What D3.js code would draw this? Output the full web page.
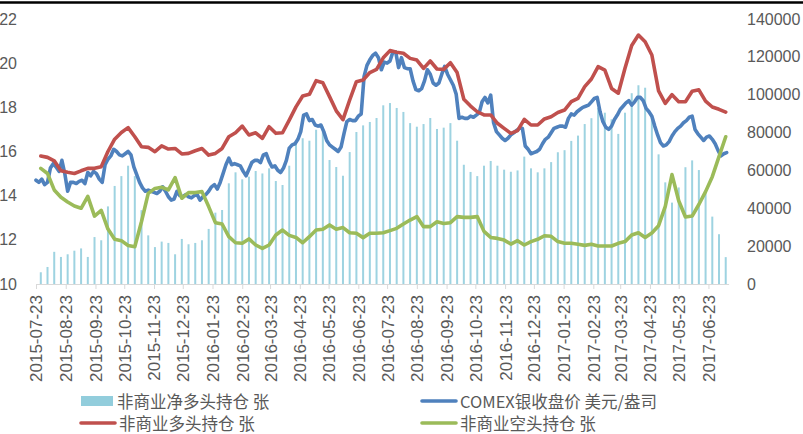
<!DOCTYPE html>
<html>
<head>
<meta charset="utf-8">
<script src="https://cdn.jsdelivr.net/npm/d3@7/dist/d3.min.js"></script>
<style>
  html, body { margin: 0; padding: 0; background: #fff; }
  svg { display: block; }
  .axis text { font-family: "Liberation Sans", Arial, sans-serif; fill: #595959; }
  .legend text { font-family: "Noto Sans CJK SC", "Liberation Sans", sans-serif; fill: #595959; }
</style>
</head>
<body>
<svg id="chart" width="803" height="434"></svg>
<script>
// ── Data ──
// COMEX silver close (USD/oz), sampled every 3 days from 2015-07-23
const priceStart = Date.UTC(2015, 6, 23);
const priceStepDays = 3;
const silverPrice = [
  14.7, 14.6, 14.75, 14.5, 14.6, 15.25, 15.45, 15.3, 15.1, 15.6,
  15.0, 14.2, 14.6, 14.6, 14.55, 14.65, 14.7, 14.55, 15.05, 14.9,
  15.1, 15.0, 14.75, 14.6, 15.4, 15.65, 15.8, 16.1, 16.0, 15.85,
  15.8, 15.9, 16.0, 15.85, 15.3, 14.95, 14.6, 14.35, 14.2, 14.25,
  14.2, 14.15, 14.1, 14.2, 14.4, 14.2, 13.95, 13.8, 13.85, 14.2,
  14.0, 13.95, 14.05, 13.95, 13.9, 14.0, 14.05, 13.8, 13.95, 14.05,
  14.2, 14.4, 14.5, 14.3, 14.6, 15.0, 15.4, 15.7, 15.4, 15.45,
  15.4, 15.35, 15.1, 14.9, 15.2, 15.5, 15.6, 15.6, 15.5, 15.85,
  15.9, 15.55, 15.3, 15.35, 15.15, 15.05, 15.25, 15.6, 16.15, 16.3,
  16.35, 16.55, 16.9, 17.65, 17.7, 17.4, 17.45, 17.2, 17.15, 17.2,
  16.9, 16.5, 16.3, 16.2, 16.1, 16.0, 16.2, 16.8, 17.35, 17.45,
  17.4, 17.4, 17.6, 17.7, 19.4, 19.9, 20.15, 20.35, 20.45, 20.25,
  19.7, 20.05, 20.0, 20.1, 20.5, 20.5, 19.8, 20.25, 19.8, 19.75,
  19.75, 19.2, 18.8, 18.75, 18.85, 19.2, 19.7, 19.5, 19.1, 19.0,
  19.1, 19.5, 19.85, 19.5, 19.25, 19.0, 18.6, 17.5, 17.55, 17.5,
  17.5, 17.6, 17.55, 17.65, 17.75, 18.25, 18.45, 18.2, 18.55, 17.3,
  16.9, 16.75, 16.6, 16.5, 16.6, 16.75, 16.85, 16.95, 17.05, 17.05,
  16.25, 16.1, 15.9, 15.95, 16.0, 16.1, 16.35, 16.55, 16.65, 16.85,
  17.05, 17.1, 17.15, 17.15, 17.1, 17.5, 17.7, 17.65, 17.8, 17.9,
  18.0, 18.05, 18.1, 18.25, 18.4, 18.45, 17.8, 17.35, 17.1, 17.0,
  17.15, 17.45, 17.65, 17.9, 18.05, 18.2, 18.3, 18.1, 18.25, 18.45,
  18.45, 18.3, 17.95, 17.8, 17.6, 17.15, 16.75, 16.4, 16.25, 16.3,
  16.45, 16.7, 16.9, 17.05, 17.15, 17.3, 17.4, 17.55, 17.6, 17.0,
  16.8, 16.65, 16.5, 16.65, 16.7, 16.55, 16.35, 16.05, 15.8, 15.9,
  15.95
];

// Weekly CFTC positions (contracts), Tuesdays from 2015-07-28
const weekStart = Date.UTC(2015, 6, 28);
const netLong = [
  6200, 9000, 17000, 14300, 15700, 17600, 18800, 14300, 24800, 23100,
  41000, 51800, 57000, 62500, 57000, 39000, 25700, 19500, 22400, 21700,
  15700, 23800, 21000, 21700, 23100, 29100, 37700, 39100, 53200, 59000,
  55300, 56700, 59700, 58400, 61100, 54400, 52300, 62500, 75000, 77000,
  75700, 81500, 83100, 65500, 61800, 57200, 69700, 80300, 83800, 85600,
  87700, 94400, 95600, 93000, 90900, 85000, 83100, 84500, 87700, 81900,
  82600, 85000, 75700, 63000, 59200, 57000, 62500, 65000, 62500, 60400,
  59300, 60000, 67300, 61100, 59000, 61100, 64400, 69600, 70700, 75600,
  78400, 84500, 87600, 93000, 90500, 87000, 79300, 90500, 100800, 105000,
  103700, 88000, 68500, 53700, 43000, 51000, 61700, 65300, 60200, 48000,
  35600, 26300, 14200
];
const longPos = [
  67600, 66900, 65100, 59800, 59000, 58400, 59800, 61100, 61100, 62000,
  70000, 76500, 80000, 82600, 77800, 72500, 72200, 69900, 73000, 71300,
  71600, 68700, 69000, 70400, 71600, 68100, 69000, 71600, 77800, 79900,
  83400, 78700, 79900, 76900, 83100, 79600, 79900, 86600, 93600, 99300,
  100200, 107400, 106300, 99000, 91500, 86800, 97200, 106900, 107800, 111700,
  113400, 119500, 123300, 122400, 121900, 119200, 118300, 113900, 117800, 113600,
  113400, 116900, 111700, 97600, 94000, 91000, 89300, 89300, 84900, 82200,
  79600, 81000, 87000, 84000, 84000, 87200, 88400, 90600, 91900, 96300,
  98100, 104300, 108300, 114800, 113000, 103300, 100800, 114000, 126000, 131500,
  128000, 121000, 102000, 95400, 100000, 96300, 96300, 101800, 102600, 96600,
  93500, 92300, 90800
];
const shortPos = [
  61100, 58400, 49700, 45800, 43300, 41200, 40000, 46300, 35900, 38900,
  29000, 23600, 22900, 20300, 19700, 33000, 47900, 50500, 51100, 49700,
  56200, 45300, 48300, 48300, 48800, 40900, 32400, 31700, 25000, 21800,
  21500, 23800, 20600, 18800, 20600, 25900, 28500, 25700, 24600, 21800,
  25000, 28500, 28900, 31200, 28900, 29800, 27100, 26800, 24500, 26800,
  26800, 27100, 28200, 29400, 31700, 33800, 35600, 30300, 30300, 32900,
  32000, 32400, 35600, 35200, 35200, 35600, 27800, 24600, 24100, 23200,
  21100, 22900, 20600, 22400, 23600, 25500, 25200, 22400, 21500, 21500,
  21000, 20400, 21000, 20100, 20100, 20100, 21500, 22400, 25900, 27100,
  24600, 26900, 30800, 41000, 57800, 44000, 35400, 35900, 42000, 48800,
  56700, 67300, 77800
];

const monthTicks = [
  "2015-07-23", "2015-08-23", "2015-09-23", "2015-10-23", "2015-11-23", "2015-12-23",
  "2016-01-23", "2016-02-23", "2016-03-23", "2016-04-23", "2016-05-23", "2016-06-23",
  "2016-07-23", "2016-08-23", "2016-09-23", "2016-10-23", "2016-11-23", "2016-12-23",
  "2017-01-23", "2017-02-23", "2017-03-23", "2017-04-23", "2017-05-23", "2017-06-23"
];
const leftTicks = [10, 12, 14, 16, 18, 20, 22];
const rightTicks = [0, 20000, 40000, 60000, 80000, 100000, 120000, 140000];
const seriesNames = ["非商业净多头持仓 张", "COMEX银收盘价 美元/盎司", "非商业多头持仓 张", "非商业空头持仓 张"];

// ── Build dated records ──
const DAY = 86400000;
const priceData = silverPrice.map(function(v, i) { return { date: new Date(priceStart + i * priceStepDays * DAY), v: v }; });
const weekly = netLong.map(function(v, i) {
  return { date: new Date(weekStart + i * 7 * DAY), net: v, long: longPos[i], short: shortPos[i] };
});
const tickDates = monthTicks.map(function(s) { return new Date(s + "T00:00:00Z"); });

// ── Scales ──
const svg = d3.select('#chart');
const x = d3.scaleUtc()
  .domain([new Date(Date.UTC(2015, 6, 23)), new Date(Date.UTC(2017, 6, 14))])
  .range([36, 728.6]);
const yL = d3.scaleLinear().domain([10, 22]).range([284, 19]);
const yR = d3.scaleLinear().domain([0, 140000]).range([284, 19]);

// top border
svg.append('line').attr('x1', 0).attr('x2', 803).attr('y1', 2.5).attr('y2', 2.5)
  .attr('stroke', '#000').attr('stroke-width', 2.6);

// ── Bars ──
svg.append('g').selectAll('rect').data(weekly).join('rect')
  .attr('x', function(d) { return x(d.date) - 1; })
  .attr('width', 2)
  .attr('y', function(d) { return yR(d.net); })
  .attr('height', function(d) { return yR(0) - yR(d.net); })
  .attr('fill', '#9ed3e1');

// ── X axis ──
const xAxis = svg.append('g').attr('class', 'axis')
  .attr('transform', 'translate(0,284)')
  .call(d3.axisBottom(x).tickValues(tickDates).tickSize(5).tickSizeOuter(0)
    .tickFormat(function(d, i) { return monthTicks[i]; }));
xAxis.select('.domain').attr('stroke', '#d9d9d9');
xAxis.selectAll('.tick line').attr('stroke', '#d9d9d9');
xAxis.selectAll('.tick text')
  .attr('transform', 'rotate(-90)')
  .attr('text-anchor', 'end')
  .attr('x', -11).attr('y', 0).attr('dy', '0.35em')
  .style('font-size', '17px');

// ── Y axes ──
const axL = svg.append('g').attr('class', 'axis').attr('transform', 'translate(17,0)')
  .call(d3.axisLeft(yL).tickValues(leftTicks).tickSize(0).tickPadding(0));
const axR = svg.append('g').attr('class', 'axis').attr('transform', 'translate(747,0)')
  .call(d3.axisRight(yR).tickValues(rightTicks).tickSize(0).tickPadding(0)
    .tickFormat(d3.format('d')));
[axL, axR].forEach(function(a) {
  a.select('.domain').remove();
  a.selectAll('text').style('font-size', '16px');
});

// ── Lines ──
const priceLine = d3.line().x(function(d) { return x(d.date); }).y(function(d) { return yL(d.v); });
const longLine = d3.line().x(function(d) { return x(d.date); }).y(function(d) { return yR(d.long); });
const shortLine = d3.line().x(function(d) { return x(d.date); }).y(function(d) { return yR(d.short); });

function drawLine(data, gen, color) {
  svg.append('path').datum(data).attr('d', gen)
    .attr('fill', 'none').attr('stroke', color).attr('stroke-width', 3.6)
    .attr('stroke-linejoin', 'round').attr('stroke-linecap', 'round');
}
drawLine(priceData, priceLine, '#4f81bd');
drawLine(weekly, longLine, '#c0504d');
drawLine(weekly, shortLine, '#9bbb59');

// ── Legend ──
const legend = svg.append('g').attr('class', 'legend');
const legendItems = [
  { name: seriesNames[0], type: 'bar', color: '#92cddc', x: 81, y: 401 },
  { name: seriesNames[1], type: 'line', color: '#4f81bd', x: 422, y: 401 },
  { name: seriesNames[2], type: 'line', color: '#c0504d', x: 81, y: 423 },
  { name: seriesNames[3], type: 'line', color: '#9bbb59', x: 422, y: 423 }
];
legendItems.forEach(function(it) {
  if (it.type === 'bar') {
    legend.append('rect').attr('x', it.x).attr('y', it.y - 5).attr('width', 32).attr('height', 10).attr('fill', it.color);
  } else {
    legend.append('line').attr('x1', it.x).attr('x2', it.x + 34).attr('y1', it.y).attr('y2', it.y)
      .attr('stroke', it.color).attr('stroke-width', 3.6).attr('stroke-linecap', 'round');
  }
  legend.append('text').attr('x', it.x + (it.type === 'bar' ? 36 : 38)).attr('y', it.y)
    .attr('dominant-baseline', 'central').style('font-size', '16.5px').text(it.name);
});
</script>
</body>
</html>
